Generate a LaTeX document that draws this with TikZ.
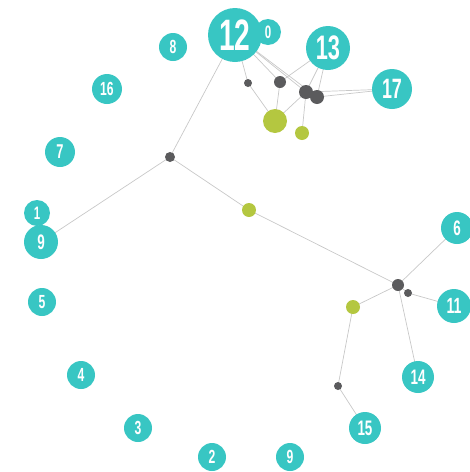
\documentclass[tikz,border=0pt]{standalone}
\usepackage{fontspec}
\newfontfamily\numfont[FakeStretch=0.64]{Liberation Sans}
\pgfdeclarelayer{bg}
\pgfsetlayers{bg,main}
\definecolor{tealc}{HTML}{38C6C3}
\definecolor{grayc}{HTML}{5B5B5D}
\definecolor{greenc}{HTML}{B4C740}
\definecolor{linec}{HTML}{C8C8C8}
\tikzset{
  tnode/.style={circle,fill=tealc,inner sep=0pt,text=white,font=\numfont\bfseries},
  gnode/.style={circle,fill=grayc,inner sep=0pt},
  lnode/.style={circle,fill=greenc,inner sep=0pt},
  edge/.style={draw=linec,line width=0.7pt}
}
\newcommand{\tn}[6]{\node[tnode,minimum size=#4*2pt,font=\numfont\bfseries\fontsize{#6}{#6}\selectfont] (#1) at (#2,#3) {#5};}
\begin{document}
\begin{tikzpicture}[x=1pt,y=-1pt]
\useasboundingbox (0,0) rectangle (470,472);
% teal nodes
\tn{n8}{173}{47}{14}{8}{19}
\tn{n0}{268}{32}{13}{0}{18}
\tn{n12}{235}{35}{27}{12}{44}
\tn{n13}{328}{48}{22}{13}{34}
\tn{n17}{392}{89}{20}{17}{28}
\tn{n16}{107}{89}{15}{16}{19}
\tn{n7}{60}{152}{15}{7}{20}
\tn{n1}{37}{213}{13}{1}{18}
\tn{n9a}{41}{242}{17}{9}{21}
\tn{n5}{42}{302}{14}{5}{19}
\tn{n4}{81}{375}{14}{4}{19}
\tn{n3}{138}{428}{14}{3}{19}
\tn{n2}{212}{457}{14}{2}{19}
\tn{n9b}{290}{457}{14}{9}{19}
\tn{n6}{457}{228}{16}{6}{21}
\tn{n11}{454}{306}{17}{11}{22}
\tn{n14}{418}{377}{16}{14}{21}
\tn{n15}{365}{428}{16}{15}{21}
% gray nodes
\node[gnode,minimum size=10pt] (hl) at (170,157) {};
\node[gnode,minimum size=8pt] (ga) at (248,83) {};
\node[gnode,minimum size=12pt] (gb) at (280,82) {};
\node[gnode,minimum size=14pt] (gc) at (306,92) {};
\node[gnode,minimum size=14pt] (gd) at (317,97) {};
\node[gnode,minimum size=12pt] (hr) at (398,285) {};
\node[gnode,minimum size=8pt] (ge) at (408,293) {};
\node[gnode,minimum size=8pt] (gf) at (338,386) {};
% green nodes
\node[lnode,minimum size=24pt] (lb) at (275,121) {};
\node[lnode,minimum size=14pt] (ls) at (302,133) {};
\node[lnode,minimum size=14pt] (lm) at (249,210) {};
\node[lnode,minimum size=14pt] (lr) at (353,307) {};
\begin{pgfonlayer}{bg}
\draw[edge] (n12.center) -- (hl.center);
\draw[edge] (hl.center) -- (n9a.center);
\draw[edge] (hl.center) -- (lm.center);
\draw[edge] (lm.center) -- (hr.center);
\draw[edge] (hr.center) -- (n6.center);
\draw[edge] (hr.center) -- (ge.center);
\draw[edge] (ge.center) -- (n11.center);
\draw[edge] (hr.center) -- (n14.center);
\draw[edge] (hr.center) -- (lr.center);
\draw[edge] (lr.center) -- (gf.center);
\draw[edge] (gf.center) -- (n15.center);
\draw[edge] (n12.center) -- (ga.center);
\draw[edge] (ga.center) -- (lb.center);
\draw[edge] (n12.center) -- (gb.center);
\draw[edge] (gb.center) -- (lb.center);
\draw[edge] (n12.center) -- (gc.center);
\draw[edge] (n12.center) -- (gd.center);
\draw[edge] (lb.center) -- (gc.center);
\draw[edge] (n13.center) -- (gb.center);
\draw[edge] (n13.center) -- (gc.center);
\draw[edge] (n13.center) -- (gd.center);
\draw[edge] (n17.center) -- (gc.center);
\draw[edge] (n17.center) -- (gd.center);
\draw[edge] (gc.center) -- (ls.center);
\end{pgfonlayer}
\end{tikzpicture}
\end{document}
